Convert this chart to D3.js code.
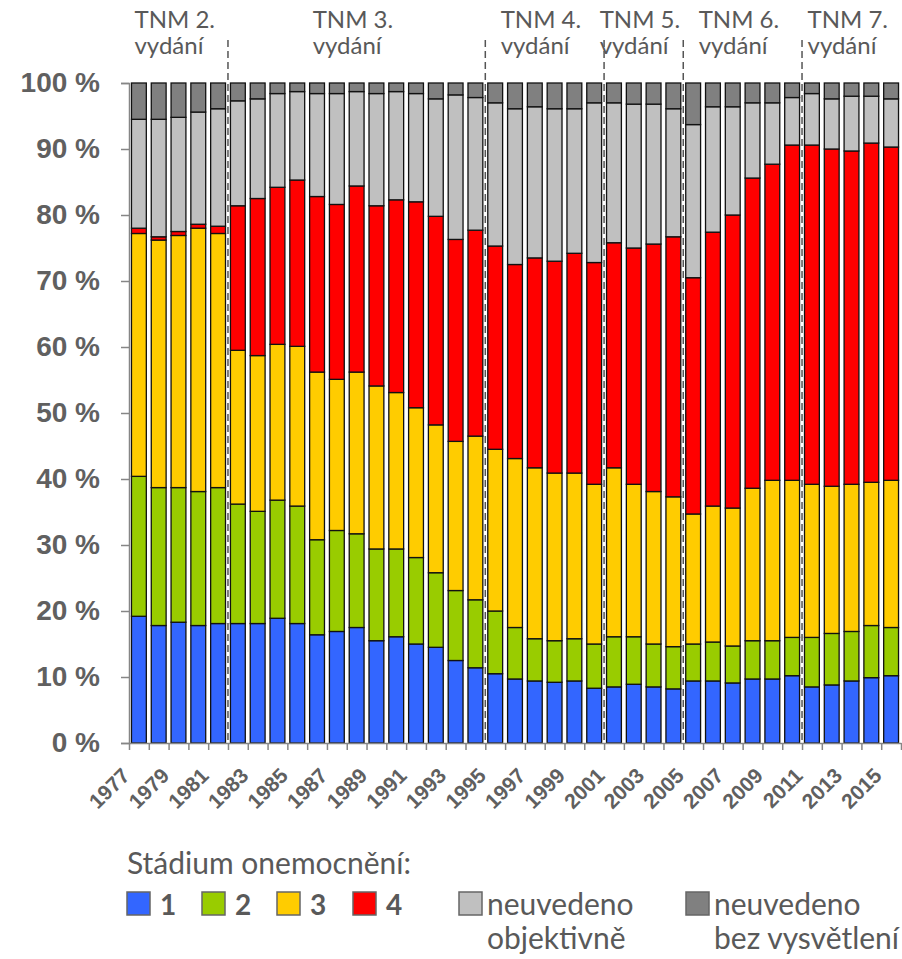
<!DOCTYPE html>
<html>
<head>
<meta charset="utf-8">
<script src="https://cdn.jsdelivr.net/npm/d3@7"></script>
<style>
  body { margin: 0; background: #fff; }
  .axis text { font-family: "Liberation Sans", Arial, sans-serif; font-weight: bold; fill: #606060; }
  .lbl { font-family: Lato, "Open Sans", sans-serif; fill: #595959; }
</style>
</head>
<body>
<div id="chart"></div>
<script>
// rok diagnózy
var years = [1977, 1978, 1979, 1980, 1981, 1982, 1983, 1984, 1985, 1986,
             1987, 1988, 1989, 1990, 1991, 1992, 1993, 1994, 1995, 1996,
             1997, 1998, 1999, 2000, 2001, 2002, 2003, 2004, 2005, 2006,
             2007, 2008, 2009, 2010, 2011, 2012, 2013, 2014, 2015]

// podíly v %
var stage1 = [19.2, 17.8, 18.3, 17.8, 18.1, 18.1, 18.1, 18.9, 18.1, 16.4,
              16.9, 17.5, 15.5, 16.1, 15.0, 14.5, 12.5, 11.4, 10.5, 9.7,
              9.4, 9.2, 9.4, 8.3, 8.5, 8.9, 8.5, 8.2, 9.4, 9.4,
              9.1, 9.7, 9.7, 10.2, 8.5, 8.8, 9.4, 9.9, 10.2]
var stage2 = [21.2, 20.9, 20.4, 20.3, 20.6, 18.1, 17.0, 17.9, 17.8, 14.4,
              15.3, 14.2, 13.9, 13.3, 13.1, 11.3, 10.6, 10.3, 9.5, 7.8,
              6.4, 6.3, 6.4, 6.7, 7.6, 7.2, 6.5, 6.4, 5.6, 5.9,
              5.6, 5.8, 5.8, 5.8, 7.5, 7.8, 7.5, 7.9, 7.3]
var stage3 = [36.8, 37.5, 38.2, 39.9, 38.5, 23.3, 23.6, 23.6, 24.2, 25.4,
              22.9, 24.5, 24.7, 23.7, 22.7, 22.4, 22.6, 24.8, 24.5, 25.6,
              25.9, 25.4, 25.1, 24.2, 25.6, 23.1, 23.1, 22.7, 19.7, 20.6,
              20.9, 23.1, 24.3, 23.8, 23.2, 22.3, 22.3, 21.7, 22.3]
var stage4 = [0.8, 0.5, 0.6, 0.6, 1.1, 21.9, 23.8, 23.8, 25.2, 26.6,
              26.5, 28.2, 27.3, 29.2, 31.2, 31.6, 30.6, 31.2, 30.8, 29.4,
              31.8, 32.1, 33.3, 33.6, 34.1, 35.8, 37.5, 39.4, 35.8, 41.5,
              44.4, 47.0, 47.9, 50.8, 51.4, 51.1, 50.5, 51.4, 50.5]
var notObjective = [16.5, 17.8, 17.3, 17.0, 17.8, 15.9, 15.1, 14.2, 13.4, 15.6,
                    16.8, 14.3, 17.0, 16.4, 16.4, 17.8, 21.9, 20.1, 21.7, 23.6,
                    22.9, 23.1, 21.9, 24.2, 21.2, 21.8, 21.2, 19.4, 23.2, 19.0,
                    16.4, 11.4, 9.3, 7.2, 7.8, 7.6, 8.3, 7.1, 7.3]
var notExplained = [5.5, 5.5, 5.2, 4.4, 3.9, 2.7, 2.4, 1.6, 1.3, 1.6,
                    1.6, 1.3, 1.6, 1.3, 1.6, 2.4, 1.8, 2.2, 3.0, 3.9,
                    3.6, 3.9, 3.9, 3.0, 3.0, 3.2, 3.2, 3.9, 6.3, 3.6,
                    3.6, 3.0, 3.0, 2.2, 1.6, 2.4, 2.0, 2.0, 2.4]

var yTicks = [0, 10, 20, 30, 40, 50, 60, 70, 80, 90, 100]
var yearLabels = [1977, 1979, 1981, 1983, 1985, 1987, 1989, 1991, 1993, 1995,
                  1997, 1999, 2001, 2003, 2005, 2007, 2009, 2011, 2013, 2015]

// vydání TNM klasifikace a rok, od kterého platí
var editions = ["TNM 2.", "TNM 3.", "TNM 4.", "TNM 5.", "TNM 6.", "TNM 7."]
var editionStart = [1977, 1982, 1995, 2001, 2005, 2011]

var keys = ["s1", "s2", "s3", "s4", "nobj", "nexp"]
var colors = ["#3366FF", "#99CC00", "#FFCC00", "#FF0000", "#C0C0C0", "#808080"]
var legendNames = ["1", "2", "3", "4", "neuvedeno|objektivně", "neuvedeno|bez vysvětlení"]

var table = years.map(function (yr, i) {
    return {year: yr, s1: stage1[i], s2: stage2[i], s3: stage3[i], s4: stage4[i],
            nobj: notObjective[i], nexp: notExplained[i]}
})

var width = 902, height = 959
var plot = {left: 129, right: 901, top: 83, bottom: 743}

var svg = d3.select("#chart").append("svg")
    .attr("width", width)
    .attr("height", height)

var x = d3.scaleBand()
    .domain(years)
    .range([plot.left, plot.right])
    .paddingInner(0.25)
    .paddingOuter(0.125)

// hranice kategorií (kvůli tickům a čárkovaným čarám)
var xb = d3.scaleLinear()
    .domain([0, years.length])
    .range([plot.left, plot.right])

var y = d3.scaleLinear()
    .domain([0, 100])
    .range([plot.bottom, plot.top])

var series = d3.stack().keys(keys)(table)

svg.append("g").selectAll("g")
    .data(series)
    .enter().append("g")
    .attr("fill", function (d, i) { return colors[i] })
    .selectAll("rect")
    .data(function (d) { return d })
    .enter().append("rect")
    .attr("x", function (d) { return x(d.data.year) })
    .attr("y", function (d) { return y(d[1]) })
    .attr("width", x.bandwidth())
    .attr("height", function (d) { return y(d[0]) - y(d[1]) })
    .attr("stroke", "#111")
    .attr("stroke-width", 1.3)

// čárkované čáry mezi vydáními
editionStart.slice(1).forEach(function (yr) {
    var bx = xb(years.indexOf(yr))
    svg.append("line")
        .attr("x1", bx).attr("x2", bx)
        .attr("y1", 40).attr("y2", plot.bottom)
        .attr("stroke", "#555")
        .attr("stroke-width", 1.5)
        .attr("stroke-dasharray", "7,4")
})

// popisky vydání
editions.forEach(function (name, i) {
    var i0 = years.indexOf(editionStart[i])
    var i1 = i + 1 < editionStart.length ? years.indexOf(editionStart[i + 1]) : years.length
    var left = (xb(i0) + xb(i1)) / 2 - 44
    svg.append("text")
        .attr("class", "lbl")
        .attr("x", left).attr("y", 28)
        .style("font-size", "24px")
        .text(name)
    svg.append("text")
        .attr("class", "lbl")
        .attr("x", left).attr("y", 54)
        .style("font-size", "24px")
        .text("vydání")
})

// osa y
var yAxis = d3.axisLeft(y)
    .tickValues(yTicks)
    .tickSize(8)
    .tickPadding(21)
    .tickFormat(function (d) { return d + " %" })

var gy = svg.append("g")
    .attr("class", "axis")
    .attr("transform", "translate(" + plot.left + ",0)")
    .call(yAxis)
gy.selectAll("text").style("font-size", "28px")
gy.selectAll("line").attr("stroke", "#868686").attr("stroke-width", 1.5)
gy.select(".domain").attr("stroke", "#868686").attr("stroke-width", 1.5)

// osa x
var xAxis = d3.axisBottom(xb)
    .tickValues(d3.range(years.length + 1))
    .tickSize(7)
    .tickSizeOuter(0)
    .tickFormat("")

var gx = svg.append("g")
    .attr("class", "axis")
    .attr("transform", "translate(0," + plot.bottom + ")")
    .call(xAxis)
gx.selectAll("line").attr("stroke", "#868686").attr("stroke-width", 1.5)
gx.select(".domain").attr("stroke", "#868686").attr("stroke-width", 1.5)

svg.append("g")
    .attr("class", "axis")
    .selectAll("text")
    .data(yearLabels)
    .enter().append("text")
    .attr("transform", function (d) {
        var cx = x(d) + x.bandwidth() / 2 - 8
        return "translate(" + cx + ",777) rotate(-45)"
    })
    .attr("text-anchor", "end")
    .style("font-size", "21px")
    .text(function (d) { return d })

// legenda
var legend = svg.append("g")

legend.append("text")
    .attr("class", "lbl")
    .attr("x", 127)
    .attr("y", 874)
    .style("font-size", "30px")
    .text("Stádium onemocnění:")

var legX = [127, 202, 277, 353, 459, 686]
legendNames.forEach(function (name, i) {
    var g = legend.append("g").attr("transform", "translate(" + legX[i] + ",892)")
    g.append("rect")
        .attr("width", 23).attr("height", 23)
        .attr("fill", colors[i])
        .attr("stroke", "#666")
        .attr("stroke-width", 1.5)
    var parts = name.split("|")
    if (parts.length === 1) {
        g.append("text")
            .attr("x", 33).attr("y", 23)
            .style("font-family", "Lato, sans-serif")
            .style("font-weight", "bold")
            .style("font-size", "28px")
            .style("fill", "#595959")
            .text(parts[0])
    } else {
        g.append("text").attr("class", "lbl")
            .attr("x", 28).attr("y", 23)
            .style("font-size", "30px")
            .text(parts[0])
        g.append("text").attr("class", "lbl")
            .attr("x", 28).attr("y", 57)
            .style("font-size", "30px")
            .text(parts[1])
    }
})
</script>
</body>
</html>
